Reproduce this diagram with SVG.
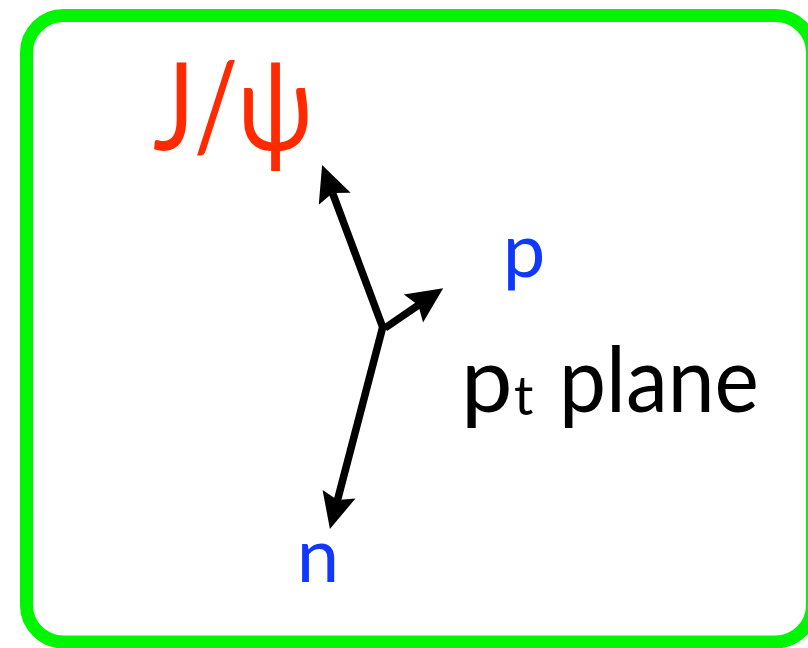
<svg xmlns="http://www.w3.org/2000/svg" width="808" height="648" viewBox="0 0 808 648">
<style>
  .frame { fill: #ffffff; stroke: #00f500; stroke-width: 13; }
  .vec { stroke: #000000; stroke-width: 7.5; fill: none; }
  .lbl { font-family: Lato, "Open Sans", "Liberation Sans", sans-serif; }
  .red { fill: #ff2a00; }
  .blue { fill: #1038ff; }
  .black { fill: #000000; }
</style>
<defs>
  <marker id="head" markerUnits="userSpaceOnUse" markerWidth="80" markerHeight="80" refX="0" refY="0" orient="auto" overflow="visible">
    <path d="M-6,-17 L30,0 L-6,17 L0,0 Z" fill="#000000"/>
  </marker>
</defs>
<rect class="frame" x="26.5" y="15.5" width="786" height="626.5" rx="37" ry="37"/>
<g id="connectors">
  <line class="vec" x1="383" y1="328" x2="332.6" y2="193.1" marker-end="url(#head)"/>
  <line class="vec" x1="385" y1="328" x2="418.4" y2="305.2" marker-end="url(#head)"/>
  <line class="vec" x1="383" y1="326" x2="337.5" y2="500" marker-end="url(#head)"/>
</g>
<g id="jpsi">
  <text class="lbl red" x="153" y="150" font-size="122" textLength="160" lengthAdjust="spacingAndGlyphs">J/ψ</text>
</g>
<g id="p">
  <text class="lbl blue" x="524" y="277" font-size="76" text-anchor="middle">p</text>
</g>
<g id="n">
  <text class="lbl blue" x="318" y="582" font-size="76" text-anchor="middle">n</text>
</g>
<g id="ptplane">
  <text class="lbl black" font-size="92" y="412"><tspan x="461">p</tspan><tspan x="514" y="415" font-size="54">t</tspan><tspan x="559" y="412" textLength="200" lengthAdjust="spacingAndGlyphs">plane</tspan></text>
</g>
</svg>
